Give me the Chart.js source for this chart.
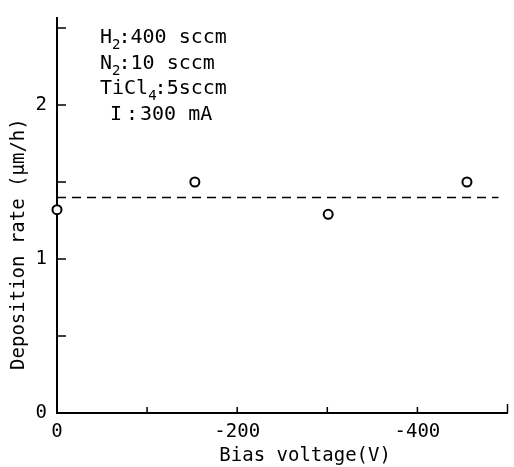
<!DOCTYPE html>
<html>
<head>
<meta charset="utf-8">
<script src="https://cdn.jsdelivr.net/npm/chart.js@4.4.1/dist/chart.umd.min.js"></script>
<style>
  html, body { margin: 0; padding: 0; background: #fff; }
  #wrap { width: 514px; height: 467px; }
</style>
</head>
<body>
<div id="wrap"><canvas id="rate_chart"></canvas></div>
<script>
// measured points (bias voltage V, deposition rate um/h)
const biasVoltage = [0, -153, -301, -455];
const depositionRate = [1.32, 1.50, 1.29, 1.50];

// dashed average line
const avgX = [0, -490];
const avgRate = [1.40, 1.40];

// axes
const xTickValues = [0, -100, -200, -300, -400, -500];
const xTickLabels = { '0': '0', '-200': '-200', '-400': '-400' };
const yTickValues = [0, 0.5, 1, 1.5, 2, 2.5];
const yTickLabels = { '0': '0', '1': '1', '2': '2' };

// conditions block
const conditions = [
    [{ t: 'H' }, { t: '2', sub: true }, { t: ':400 sccm' }],
    [{ t: 'N' }, { t: '2', sub: true }, { t: ':10 sccm' }],
    [{ t: 'TiCl' }, { t: '4', sub: true }, { t: ':5sccm' }],
    [{ t: 'I', dx: 10 }, { t: ':', dx: 26 }, { t: '300 mA', dx: 40 }]
];

const fontFamily = '"DejaVu Sans Mono", monospace';

// inward ticks + condition text
const paperTicks = {
    id: 'paperTicks',
    afterDraw(chart) {
        let ctx = chart.ctx;
        let xs = chart.scales.x, ys = chart.scales.y;
        let area = chart.chartArea;
        ctx.save();
        ctx.strokeStyle = '#000';
        ctx.lineWidth = 1.5;
        ctx.beginPath();
        yTickValues.forEach(v => {
            if (v === 0) return;
            let py = ys.getPixelForValue(v);
            ctx.moveTo(area.left, py);
            ctx.lineTo(area.left + 9, py);
        });
        xTickValues.forEach(v => {
            if (v === 0) return;
            let px = xs.getPixelForValue(v);
            ctx.moveTo(px, area.bottom);
            ctx.lineTo(px, area.bottom - (v === -500 ? 9 : 6));
        });
        ctx.stroke();

        ctx.fillStyle = '#000';
        ctx.textBaseline = 'alphabetic';
        let x0 = area.left + 43;
        let y0 = 43;
        conditions.forEach((line, i) => {
            let x = x0;
            let y = y0 + i * 25.5;
            line.forEach(run => {
                ctx.font = (run.sub ? '14px ' : '20px ') + fontFamily;
                if (run.dx !== undefined) x = x0 + run.dx;
                ctx.fillText(run.t, x, run.sub ? y + 6 : y);
                x += ctx.measureText(run.t).width - (run.sub ? 2 : 0);
            });
        });
        ctx.restore();
    }
};

function rate_chart() {
    let data = {
        datasets: [{
            type: 'scatter',
            label: 'Deposition rate',
            data: biasVoltage.map((v, i) => ({ x: v, y: depositionRate[i] })),
            pointStyle: 'circle',
            pointRadius: 4.5,
            pointBorderWidth: 2,
            pointBackgroundColor: '#fff',
            pointBorderColor: '#000',
            clip: false
        }, {
            type: 'line',
            label: 'Average',
            data: avgX.map((v, i) => ({ x: v, y: avgRate[i] })),
            borderColor: '#000',
            borderWidth: 1.5,
            borderDash: [9, 6],
            pointRadius: 0,
            fill: false
        }]
    };

    let config = {
        data: data,
        plugins: [paperTicks],
        options: {
            responsive: true,
            maintainAspectRatio: false,
            animation: false,
            layout: { padding: { left: 8, right: 2, top: 18, bottom: 0 } },
            plugins: {
                legend: { display: false },
                tooltip: { enabled: false }
            },
            scales: {
                x: {
                    type: 'linear',
                    min: -500,
                    max: 0,
                    reverse: true,
                    afterBuildTicks: s => { s.ticks = xTickValues.map(v => ({ value: v })); },
                    afterFit: s => { s.height = 54; s.paddingLeft = 0; s.paddingRight = 0; },
                    ticks: {
                        autoSkip: false,
                        maxRotation: 0,
                        padding: 8,
                        color: '#000',
                        font: { family: fontFamily, size: 19 },
                        callback: v => xTickLabels[String(v)] || ''
                    },
                    grid: { drawOnChartArea: false, drawTicks: false },
                    border: { display: true, color: '#000', width: 2 },
                    title: {
                        display: true,
                        text: '    Bias voltage(V)',
                        color: '#000',
                        padding: { top: 0, bottom: 0 },
                        font: { family: fontFamily, size: 19 }
                    }
                },
                y: {
                    type: 'linear',
                    min: 0,
                    max: 2.565,
                    afterBuildTicks: s => { s.ticks = yTickValues.map(v => ({ value: v })); },
                    afterFit: s => { s.width = 49; s.paddingTop = 0; s.paddingBottom = 0; },
                    ticks: {
                        autoSkip: false,
                        padding: 10,
                        color: '#000',
                        font: { family: fontFamily, size: 19 },
                        callback: v => yTickLabels[String(v)] || ''
                    },
                    grid: { drawOnChartArea: false, drawTicks: false },
                    border: { display: true, color: '#000', width: 2 },
                    title: {
                        display: true,
                        text: 'Deposition rate (μm/h)     ',
                        color: '#000',
                        padding: { top: 0, bottom: 4 },
                        font: { family: fontFamily, size: 19 }
                    }
                }
            }
        }
    };

    let ratechart_chart = new Chart(document.getElementById('rate_chart'), config);
}

rate_chart();
</script>
</body>
</html>
